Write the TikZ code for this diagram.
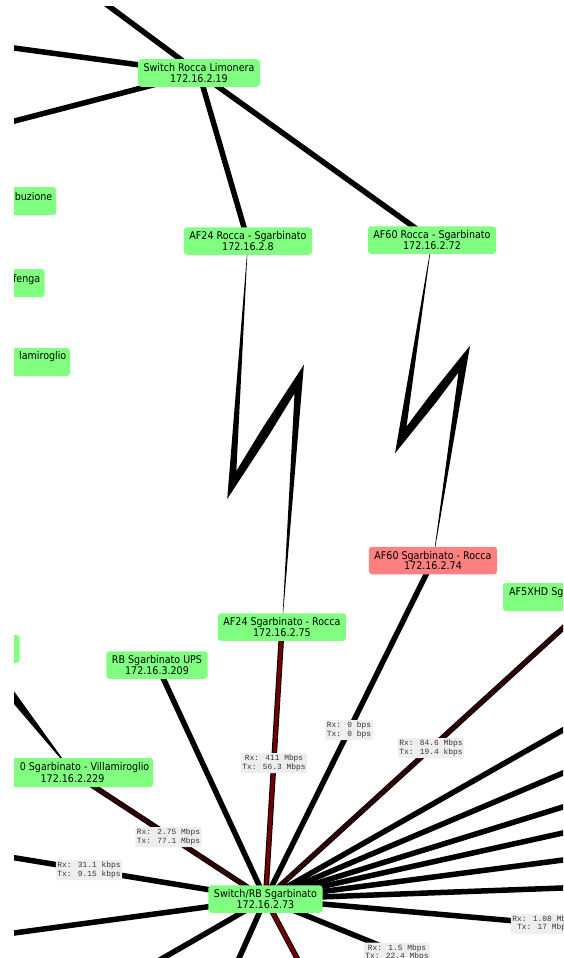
\documentclass[tikz,border=0pt]{standalone}
\usepackage{fontspec}
\usetikzlibrary{calc}
\newfontfamily\devfont[FakeStretch=0.9]{DejaVu Sans}
\newfontfamily\ratefont{Liberation Mono}
\definecolor{devgreen}{RGB}{128,255,128}
\definecolor{devred}{RGB}{255,128,128}
\definecolor{busyred}{RGB}{115,0,0}
\definecolor{lowred}{RGB}{50,0,0}
\definecolor{ratefill}{RGB}{238,238,238}
\definecolor{ratetext}{RGB}{55,55,55}
\pgfdeclarelayer{linklayer}
\pgfsetlayers{linklayer,main}

\tikzset{
  dev/.style={fill=devgreen, rounded corners=3pt, inner xsep=5.5pt, inner ysep=0pt,
    minimum height=27.5pt, align=center, font=\devfont\fontsize{10.6}{10.8}\selectfont},
  devdown/.style={dev, fill=devred},
  devpart/.style={fill=devgreen, rounded corners=3pt},
  devtext/.style={inner sep=0pt, font=\devfont\fontsize{10.6}{10.8}\selectfont},
  rate/.style={fill=ratefill, rounded corners=1pt, inner xsep=1.5pt, inner ysep=0pt,
    minimum height=20pt, align=center, text=ratetext, font=\ratefont\fontsize{7.9}{8.5}\selectfont},
  link/.style={draw=black, line width=5.5pt},
  hotlink/.style={draw=black, line width=1pt, double=busyred, double distance=3.5pt},
  warmlink/.style={draw=black, line width=1pt, double=lowred, double distance=3.5pt},
}

% Radio hop drawn as a zigzag that is thin at both ends and widest in the middle.
% #1 start node, #2 first bend, #3 second bend, #4 end node,
% #5 half width at first bend, #6 half width at second bend,
% #7 position of the widest point between the bends, #8 largest half width
\newcommand\boltpath[8]{%
  \coordinate (bA) at (#1.center);
  \coordinate (bB) at #2;
  \coordinate (bC) at #3;
  \coordinate (bD) at (#4.center);
  \coordinate (p1) at ($(bB)!#5!-90:(bA)$);
  \coordinate (p2) at ($(bB)!#5!90:(bC)$);
  \coordinate (bM) at ($(bB)!#7!(bC)$);
  \coordinate (pm) at ($(bM)!#8!90:(bC)$);
  \coordinate (p3) at ($(bC)!#6!-90:(bB)$);
  \coordinate (p4) at ($(bC)!#6!90:(bD)$);
  \coordinate (q1) at ($(bB)!#5!90:(bA)$);
  \coordinate (q2) at ($(bB)!#5!-90:(bC)$);
  \coordinate (qm) at ($(bM)!#8!-90:(bC)$);
  \coordinate (q3) at ($(bC)!#6!90:(bB)$);
  \coordinate (q4) at ($(bC)!#6!-90:(bD)$);
  \fill[black] (bA) -- (intersection of bA--p1 and p2--pm) -- (pm)
    -- (intersection of pm--p3 and p4--bD) -- (bD)
    -- (intersection of bD--q4 and q3--qm) -- (qm)
    -- (intersection of qm--q2 and q1--bA) -- cycle;
}

\begin{document}
\begin{tikzpicture}[x=1pt,y=-1pt]
\useasboundingbox (0,0) rectangle (563,958);

\begin{scope}
\clip (14,7) rectangle (563,958);

% devices
\node[dev] (rocca) at (199,73) {Switch Rocca Limonera\\172.16.2.19};
\node[dev] (af24r) at (248,241) {AF24 Rocca - Sgarbinato\\172.16.2.8};
\node[dev] (af60r) at (432,240) {AF60 Rocca - Sgarbinato\\172.16.2.72};
\node[devdown] (af60s) at (433,560.5) {AF60 Sgarbinato - Rocca\\172.16.2.74};
\node[dev] (af24s) at (282,627) {AF24 Sgarbinato - Rocca\\172.16.2.75};
\node[dev] (ups) at (157,665) {RB Sgarbinato UPS\\172.16.3.209};
\node[dev] (sw) at (265.5,899) {Switch/RB Sgarbinato\\172.16.2.73};

% devices running off the left and right edges
\path[devpart] (-40,187) rectangle (56,215);
\node[devtext, anchor=east] (distr) at (52.5,197) {buzione};
\path[devpart] (-40,269) rectangle (44.5,297);
\node[devtext, anchor=east] (fenga) at (40.5,279.5) {fenga};
\path[devpart] (-40,348) rectangle (70,376);
\node[devtext, anchor=east] (villamiro) at (66.5,357) {lamiroglio};
\path[devpart] (-40,635) rectangle (19.5,663);
\path[devpart] (-40,758) rectangle (153,787);
\node[devtext, anchor=east] (villaname) at (149.5,768) {0 Sgarbinato - Villamiroglio};
\node[devtext] (villaip) at (72.5,778.5) {172.16.2.229};
\coordinate (villa) at (72.5,772.5);
\path[devpart] (503,583) rectangle (700,611);
\node[devtext, anchor=west] (af5name) at (509,592.5) {AF5XHD Sg};
\coordinate (af5) at (597,597);

% traffic readings
\node[rate] (r411) at (274,763) {Rx: 411 Mbps\\Tx: 56.3 Mbps};
\node[rate] (rzero) at (349,730) {Rx: 0 bps\\Tx: 0 bps};
\node[rate] (r846) at (431,748) {Rx: 84.6 Mbps\\Tx: 19.4 kbps};
\node[rate] (r275) at (168.5,837) {Rx: 2.75 Mbps\\Tx: 77.1 Mbps};
\node[rate] (r311) at (89,870) {Rx: 31.1 kbps\\Tx: 9.15 kbps};
\node[rate] (r108) at (544,923.5) {Rx: 1.08 Mbps\\Tx: 17 Mbps};
\node[rate] (r15) at (397,952.5) {Rx: 1.5 Mbps\\Tx: 22.4 Mbps};
\end{scope}

\begin{pgfonlayer}{linklayer}
\fill[white] (0,0) rectangle (563,958);
\begin{scope}
\clip (14,7) rectangle (563,958);

% Rocca Limonera
\draw[link] (rocca.center) -- (65.5,-26);
\draw[link] (rocca.center) -- (-20,43.4);
\draw[link] (rocca.center) -- (-20,130);
\draw[link] (rocca.center) -- (af24r.center);
\draw[link] (rocca.center) -- (af60r.center);

% radio hops Rocca - Sgarbinato
\boltpath{af24r}{(232,485)}{(299,379)}{af24s}{3.64pt}{3.70pt}{0.517}{4.6pt}
\boltpath{af60r}{(401,440)}{(464,359)}{af60s}{3.66pt}{3.68pt}{0.505}{4.6pt}

% radio hop arriving at Villamiroglio from the left
\fill[black] (villa) -- (-9.4,658.7) -- (-18.6,666) -- cycle;

% Sgarbinato switch
\draw[warmlink] (sw.center) -- (villa);
\draw[link] (sw.center) -- (ups.center);
\draw[hotlink] (sw.center) -- (af24s.center);
\draw[link] (sw.center) -- (af60s.center);
\draw[warmlink] (sw.center) -- (af5);
\draw[link] (sw.center) -- (570,726.0);
\draw[link] (sw.center) -- (570,770.0);
\draw[link] (sw.center) -- (570,804.8);
\draw[link] (sw.center) -- (570,831.4);
\draw[link] (sw.center) -- (570,859.1);
\draw[link] (sw.center) -- (570,887.7);
\draw[link] (sw.center) -- ($(sw.center)!1.2!(r108.center)$);
\draw[link] (sw.center) -- ($(sw.center)!1.3!(r15.center)$);
\draw[link] (sw.center) -- ($(sw.center)!1.7!(r311.center)$);
\draw[link] (sw.center) -- (-20,937.6);
\draw[link] (sw.center) -- (151,965);
\draw[link] (sw.center) -- (236,965);
\draw[hotlink] (sw.center) -- (300.7,965);
\end{scope}
\end{pgfonlayer}
\end{tikzpicture}
\end{document}
